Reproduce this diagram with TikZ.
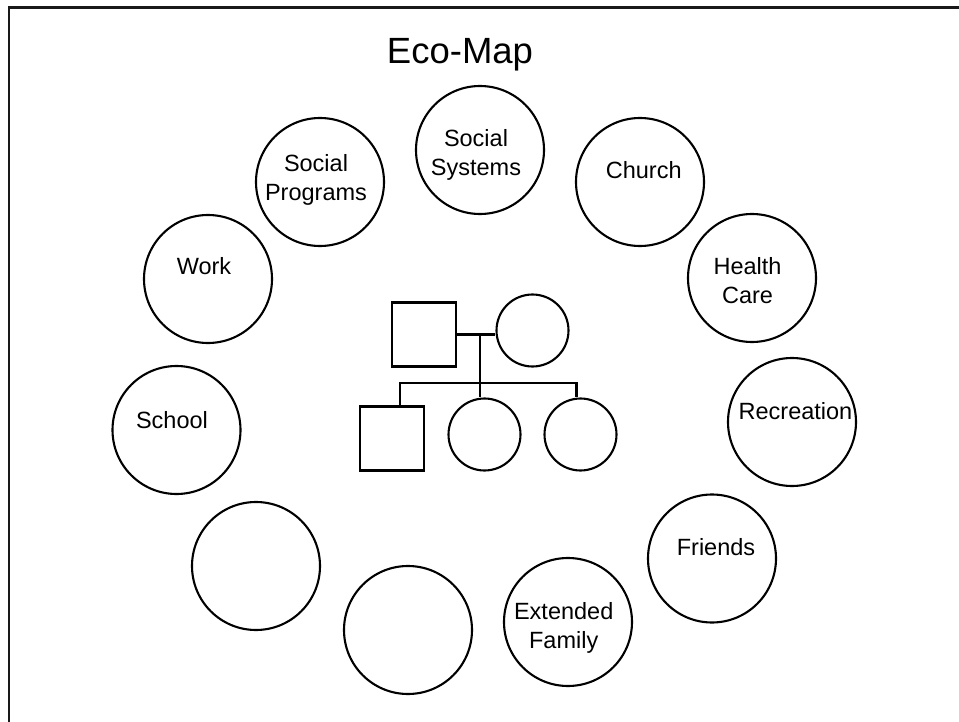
\documentclass[tikz,border=0pt]{standalone}
\usepackage{fontspec}
\setmainfont{Liberation Sans}
\begin{document}
\begin{tikzpicture}[x=1pt,y=-1pt,
  ring/.style={draw=black,line width=2.1pt,circle,minimum size=128pt,inner sep=0pt},
  kid/.style={draw=black,line width=2.1pt,circle,minimum size=72pt,inner sep=0pt},
  male/.style={draw=black,line width=2.1pt,rectangle,minimum size=64pt,inner sep=0pt},
  tag/.style={anchor=base,align=center,inner sep=0pt,font=\fontsize{23.5pt}{29pt}\selectfont},
  tie/.style={draw=black,line width=2.1pt}]
\useasboundingbox (0,0) rectangle (959,722);

% open frame (top and left edges)
\coordinate (frameTL) at (9,7.5);
\coordinate (frameTR) at (959,7.5);
\coordinate (frameBL) at (9,722);
\draw[line width=2.3pt,black!90] (frameTR) -- (frameTL) -- (frameBL);

% title
\node[anchor=base,inner sep=0pt,font=\fontsize{36.5pt}{40pt}\selectfont] (title) at (460,63.3) {Eco-Map};

% surrounding systems
\node[ring] (socprog) at (320,182) {};
\node[ring] (socsys)  at (480,150) {};
\node[ring] (church)  at (640,182) {};
\node[ring] (health)  at (752,278) {};
\node[ring] (work)    at (208,279) {};
\node[ring] (school)  at (176.5,430) {};
\node[ring] (recre)   at (792,422) {};
\node[ring] (friends) at (712,558.5) {};
\node[ring] (extfam)  at (568,622) {};
\node[ring] (blankA)  at (256,566) {};
\node[ring] (blankB)  at (408,630) {};

% labels (base anchor sits on the last line of each label)
\node[tag] (socprogT) at (316,200.5) {Social\\Programs};
\node[tag] (socsysT)  at (476,176) {Social\\Systems};
\node[tag] (churchT)  at (643.7,179) {Church};
\node[tag] (healthT)  at (747.5,303.5) {Health\\Care};
\node[tag] (workT)    at (204,275) {Work};
\node[tag] (schoolT)  at (172,428.5) {School};
\node[tag] (recreT)   at (795.5,419.5) {Recreation};
\node[tag] (friendsT) at (716,555) {Friends};
\node[tag] (extfamT)  at (563.7,648.5) {Extended\\Family};

% family genogram
\node[male] (father)   at (424,334.5) {};
\node[kid]  (mother)   at (532.5,330.5) {};
\node[male] (son)      at (392,438.5) {};
\node[kid]  (daughterA) at (484.5,434.5) {};
\node[kid]  (daughterB) at (580.5,434.5) {};

\coordinate (wed)  at (480,334.5);
\coordinate (barM) at (480,383);
\coordinate (barL) at (400,383);
\coordinate (barR) at (576.5,383);

\draw[tie] (father.east) -- (mother.west |- father.east);
\draw[tie] (wed) -- (barM);
\draw[tie,line cap=rect] (barL) -- (barR);
\draw[tie] (barL) -- (barL |- son.north);
\draw[tie] (barM) -- (barM |- daughterA.north);
\draw[tie] (barR) -- (barR |- daughterB.north);
\end{tikzpicture}
\end{document}
